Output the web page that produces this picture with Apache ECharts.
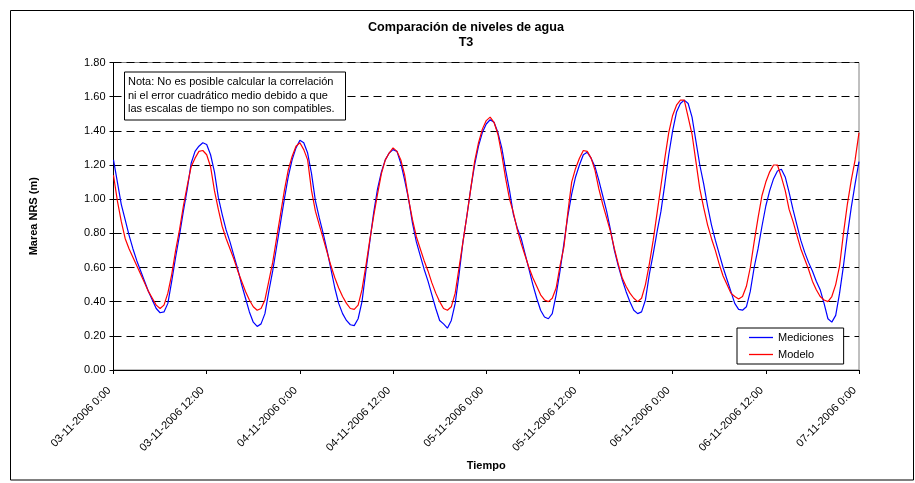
<!DOCTYPE html>
<html>
<head>
<meta charset="utf-8">
<script src="https://cdn.jsdelivr.net/npm/echarts@6/dist/echarts.min.js"></script>
<style>
  html, body { margin: 0; padding: 0; background: #fff; }
  #chart { width: 915px; height: 483px; }
</style>
</head>
<body>
<div id="chart"></div>
<script>
// Marea NRS (m), estación T3, 03-11-2006 0:00 a 07-11-2006 0:00, un valor cada media hora
const pasoHoras = 0.5;

const tickLabels = [
  '03-11-2006 0:00', '03-11-2006 12:00', '04-11-2006 0:00', '04-11-2006 12:00',
  '05-11-2006 0:00', '05-11-2006 12:00', '06-11-2006 0:00', '06-11-2006 12:00',
  '07-11-2006 0:00'
];

const mediciones = [
  1.23,1.10,0.97,0.88,0.79,0.71,0.64,0.58,0.52,0.46,0.41,0.36,0.335,0.34,0.39,0.52,0.66,0.79,0.93,1.06,1.21,1.28,1.31,1.33,
  1.32,1.26,1.16,1.01,0.91,0.82,0.75,0.67,0.59,0.50,0.42,0.34,0.28,0.255,0.27,0.33,0.46,0.58,0.72,0.86,1.00,1.13,1.23,1.30,
  1.345,1.33,1.27,1.15,0.99,0.89,0.80,0.70,0.59,0.48,0.39,0.33,0.29,0.265,0.26,0.30,0.40,0.58,0.75,0.92,1.06,1.16,1.23,1.27,
  1.29,1.28,1.21,1.11,1.00,0.86,0.75,0.67,0.59,0.52,0.44,0.36,0.29,0.27,0.245,0.29,0.39,0.56,0.75,0.90,1.06,1.20,1.31,1.39,
  1.44,1.465,1.45,1.39,1.30,1.17,1.05,0.91,0.83,0.77,0.68,0.59,0.50,0.42,0.35,0.31,0.30,0.33,0.44,0.58,0.74,0.90,1.03,1.13,
  1.20,1.26,1.275,1.24,1.19,1.11,1.02,0.93,0.82,0.70,0.61,0.53,0.46,0.40,0.35,0.33,0.34,0.41,0.56,0.68,0.81,0.93,1.09,1.26,
  1.40,1.51,1.56,1.58,1.56,1.48,1.34,1.20,1.09,0.96,0.85,0.76,0.68,0.60,0.53,0.46,0.39,0.355,0.35,0.37,0.46,0.60,0.71,0.84,
  0.96,1.05,1.12,1.165,1.175,1.13,1.04,0.94,0.85,0.76,0.69,0.63,0.58,0.52,0.47,0.39,0.30,0.28,0.32,0.45,0.61,0.79,0.95,1.09,
  1.22
];

const modelo = [
  1.14,0.99,0.87,0.77,0.71,0.66,0.61,0.56,0.51,0.46,0.42,0.38,0.36,0.38,0.45,0.56,0.70,0.82,0.96,1.08,1.19,1.24,1.28,1.285,
  1.26,1.19,1.05,0.94,0.84,0.77,0.71,0.65,0.58,0.52,0.46,0.41,0.37,0.35,0.36,0.41,0.52,0.63,0.77,0.91,1.05,1.17,1.25,1.31,
  1.33,1.29,1.23,1.05,0.93,0.85,0.77,0.69,0.61,0.54,0.48,0.43,0.39,0.36,0.355,0.38,0.47,0.61,0.76,0.90,1.03,1.15,1.23,1.27,
  1.30,1.28,1.23,1.14,1.00,0.88,0.78,0.71,0.64,0.58,0.51,0.45,0.40,0.36,0.35,0.37,0.45,0.60,0.75,0.90,1.06,1.22,1.33,1.41,
  1.46,1.48,1.45,1.38,1.26,1.12,1.00,0.92,0.82,0.74,0.67,0.60,0.54,0.49,0.44,0.41,0.40,0.42,0.48,0.61,0.72,0.92,1.10,1.18,
  1.24,1.285,1.28,1.24,1.17,1.06,0.97,0.89,0.81,0.71,0.62,0.54,0.49,0.45,0.42,0.40,0.42,0.50,0.62,0.76,0.92,1.08,1.24,1.39,
  1.49,1.55,1.58,1.58,1.48,1.38,1.22,1.06,0.95,0.85,0.77,0.70,0.62,0.55,0.50,0.45,0.43,0.415,0.43,0.49,0.60,0.75,0.89,1.02,
  1.10,1.16,1.20,1.20,1.13,1.05,0.94,0.87,0.79,0.71,0.65,0.59,0.52,0.47,0.43,0.41,0.40,0.43,0.50,0.61,0.80,0.97,1.11,1.23,
  1.39
];

const nota = 'Nota: No es posible calcular la correlación\nni el error cuadrático medio debido a que\nlas escalas de tiempo no son compatibles.';

const FONT = '"Liberation Sans", Arial, sans-serif';

const toPairs = arr => arr.map((v, i) => [i * pasoHoras, v]);

const chart = echarts.init(document.getElementById('chart'), null, { renderer: 'canvas' });

chart.setOption({
  animation: false,
  backgroundColor: '#fff',
  textStyle: { fontFamily: FONT },
  title: [
    {
      text: 'Comparación de niveles de agua\nT3',
      left: 466,
      top: 20,
      textAlign: 'center',
      padding: 0,
      textStyle: { fontFamily: FONT, fontSize: 12.6, fontWeight: 'bold', color: '#000', lineHeight: 15 }
    },
    {
      text: nota,
      left: 124,
      top: 71.5,
      padding: [4, 11, 4, 4],
      borderColor: '#000',
      borderWidth: 1,
      backgroundColor: '#fff',
      textStyle: { fontFamily: FONT, fontSize: 11, fontWeight: 'normal', color: '#000', lineHeight: 13.5 }
    }
  ],
  graphic: [
    {
      type: 'rect',
      silent: true,
      z: -1,
      shape: { x: 10.5, y: 10.5, width: 903, height: 469.5 },
      style: { fill: 'none', stroke: '#000', lineWidth: 1 }
    }
  ],
  legend: {
    orient: 'vertical',
    left: 737,
    top: 328,
    padding: [3, 10, 3, 12],
    itemGap: 4,
    itemWidth: 24,
    itemHeight: 1.3,
    icon: 'rect',
    borderColor: '#000',
    borderWidth: 1,
    backgroundColor: '#fff',
    textStyle: { fontFamily: FONT, fontSize: 11, color: '#000', lineHeight: 13 },
    data: ['Mediciones', 'Modelo']
  },
  grid: {
    left: 113.5,
    right: 56,
    top: 62.5,
    bottom: 113,
    show: true,
    borderColor: '#808080',
    borderWidth: 1,
    backgroundColor: 'transparent'
  },
  xAxis: {
    type: 'value',
    min: 0,
    max: 96,
    interval: 12,
    name: 'Tiempo',
    nameLocation: 'middle',
    nameGap: 87,
    nameTextStyle: { fontFamily: FONT, fontSize: 11, fontWeight: 'bold', color: '#000' },
    axisLine: { show: true, lineStyle: { color: '#000', width: 1 } },
    axisTick: { show: true, length: 4, lineStyle: { color: '#000' } },
    axisLabel: {
      rotate: 45,
      margin: 14.5,
      padding: [0, 6, 0, 0],
      fontFamily: FONT,
      fontSize: 11,
      color: '#000',
      formatter: v => tickLabels[Math.round(v / 12)] || ''
    },
    splitLine: { show: false }
  },
  yAxis: {
    type: 'value',
    min: 0,
    max: 1.8,
    interval: 0.2,
    name: 'Marea NRS (m)',
    nameLocation: 'middle',
    nameGap: 74,
    nameTextStyle: { fontFamily: FONT, fontSize: 11, fontWeight: 'bold', color: '#000' },
    axisLine: { show: true, lineStyle: { color: '#000', width: 1 } },
    axisTick: { show: true, length: 4, lineStyle: { color: '#000' } },
    axisLabel: {
      margin: 8,
      fontFamily: FONT,
      fontSize: 11,
      color: '#000',
      formatter: v => v.toFixed(2)
    },
    splitLine: { show: true, lineStyle: { color: '#000', width: 1, type: [8, 5] } }
  },
  series: [
    {
      name: 'Mediciones',
      type: 'line',
      data: toPairs(mediciones),
      symbol: 'none',
      color: '#0000ff',
      lineStyle: { color: '#0000ff', width: 1.2 },
      z: 3
    },
    {
      name: 'Modelo',
      type: 'line',
      data: toPairs(modelo),
      symbol: 'none',
      color: '#ff0000',
      lineStyle: { color: '#ff0000', width: 1.2 },
      z: 4
    }
  ]
});
</script>
</body>
</html>
